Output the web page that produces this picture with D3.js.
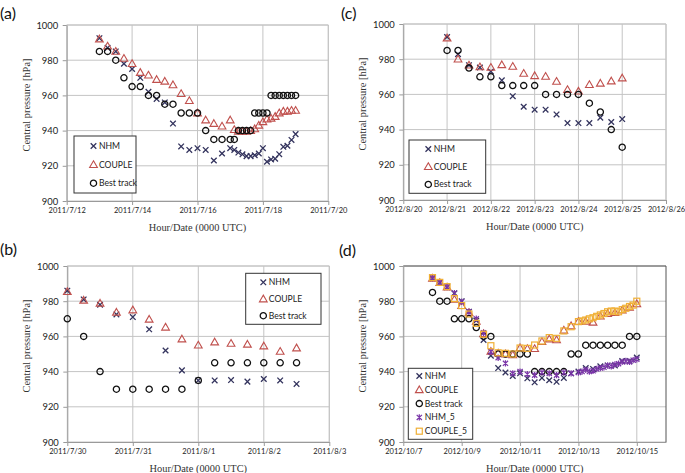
<!DOCTYPE html>
<html>
<head>
<meta charset="utf-8">
<script src="https://cdn.jsdelivr.net/npm/d3@7"></script>
<style>
  body { margin: 0; background: #fff; }
  svg { display: block; }
</style>
</head>
<body>
<svg id="chart" width="685" height="473"></svg>
<script>
// ---- data (day of month, hPa) ----
// (a) 2011 July
const aTime = [13, 13.25, 13.5, 13.75, 14, 14.25, 14.5, 14.75, 15, 15.25, 15.5, 15.75, 16, 16.25, 16.5, 16.75,
  17, 17.125, 17.25, 17.375, 17.5, 17.625, 17.75, 17.875, 18, 18.125, 18.25, 18.375, 18.5, 18.625, 18.75, 18.875, 19]
const aNHM = [992.5, 987, 985, 978, 975, 970, 962, 958, 956, 944, 931, 929, 930, 929, 923, 927,
  930, 929, 927.5, 926.5, 925.5, 925.5, 926, 927, 930, 922.3, 923.6, 924, 926.6, 930.8, 931.4, 934.7, 938]
const aCOUPLE = [992, 988, 985, 981, 978, 973, 971.5, 969, 968, 966, 961, 957, 950, 946, 944, 942.5,
  946, 940.5, 939.5, 939.5, 939.5, 940, 941, 943, 945, 946.5, 947, 948, 950, 951, 951, 951.5, 951.5]
const aBest = [985, 985, 980, 970, 965, 965, 960, 960, 955, 955, 950, 950, 950, 940, 935, 935,
  935, 935, 940, 940, 940, 940, 950, 950, 950, 950, 960, 960, 960, 960, 960, 960, 960]

// (b) 2011 July (day 32 = Aug 1)
const bTime = [30, 30.25, 30.5, 30.75, 31, 31.25, 31.5, 31.75, 32, 32.25, 32.5, 32.75, 33, 33.25, 33.5]
const bNHM = [986, 981, 978, 972.5, 971, 964, 952, 940.7, 935, 935, 935.2, 934.3, 935.8, 935, 933]
const bCOUPLE = [985.4, 980.5, 978.8, 973.7, 975, 969.7, 965.2, 958.5, 955, 956.8, 956, 955.5, 954.5, 951.5, 953.4]
const bBest = [970, 960, 940, 930, 930, 930, 930, 930, 935, 945, 945, 945, 945, 945, 945]

// (c) 2012 August
const cTime = [21, 21.25, 21.5, 21.75, 22, 22.25, 22.5, 22.75, 23, 23.25, 23.5, 23.75, 24, 24.25, 24.5, 24.75, 25]
const cNHM = [992.6, 982.8, 976.6, 975.3, 973, 968, 959, 953, 951.3, 951.3, 948.6, 943.7, 943.7, 943.7, 946.8, 944.3, 946]
const cCOUPLE = [992, 980, 976.6, 975.6, 975.3, 976.8, 975.9, 971.9, 970.6, 970.2, 967.4, 962.7, 961.8, 965.5, 966.3, 967.6, 969.3]
const cBest = [985, 985, 975, 970, 970, 965, 965, 965, 965, 960, 960, 960, 960, 955, 950, 940, 930]

// (d) 2012 October
const dTime = [8, 8.25, 8.5, 8.75, 9, 9.25, 9.5, 9.75, 10, 10.25, 10.5, 10.75, 11, 11.25, 11.5, 11.75,
  12, 12.25, 12.5, 12.75, 13, 13.25, 13.5, 13.75, 14, 14.25, 14.5, 14.75, 15]
const dNHM = [993, 990.5, 988, 984.5, 980, 974, 969, 958, 949, 942, 939.5, 937.5, 939, 936.2, 933.9, 936.4,
  935.1, 934.2, 936.4, 939, 940, 942, 941.5, 943, 943.5, 943.5, 946, 946, 948]
const dCOUPLE = [993, 990.5, 988, 981, 977.5, 973.5, 968.5, 961.5, 951.5, 950.5, 950, 949.5, 953.5, 953, 953, 957,
  958.5, 958, 963.5, 966, 968.5, 968.5, 968, 971.5, 973, 973.5, 975, 976.5, 978.5]
const dBest = [985, 980, 980, 970, 970, 970, 965, 960, 960, 950, 950, 950, 950, 950, 940, 940,
  940, 940, 940, 950, 950, 955, 955, 955, 955, 955, 955, 960, 960]
const d5Time = [8, 8.25, 8.5, 8.75, 9, 9.25, 9.5, 9.75, 10, 10.25, 10.5, 10.75, 11, 11.25, 11.5, 11.75,
  12, 12.25, 12.5, 12.75, 13, 13.125, 13.25, 13.375, 13.5, 13.625, 13.75, 13.875, 14, 14.125, 14.25, 14.375,
  14.5, 14.625, 14.75, 14.875, 15]
const dNHM5 = [993, 990.5, 988, 984.5, 979.7, 974, 970, 962, 951.3, 947.9, 944.7, 939, 940, 938.5, 938, 939.5,
  939, 938, 939.5, 939, 939.5, 940, 941, 940, 940.5, 941.5, 942, 942.5, 943.5, 943, 944, 944.5,
  945.5, 946, 945.5, 946.5, 947]
const dCOUPLE5 = [993.4, 990.7, 988.3, 981.5, 977.5, 972.7, 967.4, 961.2, 954.7, 950.7, 950.4, 950, 953.4, 953.2, 955.1, 957.4,
  959.3, 958.9, 963.1, 965.5, 968.4, 968.8, 969.3, 970, 970.6, 971.4, 972.2, 973, 974, 974.4, 974.4, 974,
  975.2, 976, 977, 977.8, 980]

const pressureTicks = [900, 920, 940, 960, 980, 1000]
const aTicks = [12, 14, 16, 18, 20]
const bTicks = [30, 31, 32, 33, 34]
const cTicks = [20, 21, 22, 23, 24, 25, 26]
const dTicks = [7, 9, 11, 13, 15]

// ---- styles ----
const styles = {
  NHM: { color: '#34345e', marker: 'cross' },
  COUPLE: { color: '#c0504d', marker: 'triangle' },
  'Best track': { color: '#111', marker: 'circle' },
  NHM_5: { color: '#7a35a8', marker: 'star' },
  COUPLE_5: { color: '#f0b035', marker: 'square' }
}

const toDate = (year, month, day) => new Date(Date.UTC(year, month, 1) + (day - 1) * 864e5)
const fmt = d => `${d.getUTCFullYear()}/${d.getUTCMonth() + 1}/${d.getUTCDate()}`

function marker(sel, name) {
  const { color, marker } = styles[name]
  if (marker === 'cross') {
    sel.append('path').attr('d', 'M-2.8,-2.8L2.8,2.8M-2.8,2.8L2.8,-2.8')
      .attr('stroke', color).attr('stroke-width', 1.3).attr('fill', 'none')
  } else if (marker === 'star') {
    sel.append('path').attr('d', 'M-2.6,-2.6L2.6,2.6M-2.6,2.6L2.6,-2.6M0,-3.2L0,3.2')
      .attr('stroke', color).attr('stroke-width', 1.2).attr('fill', 'none')
  } else if (marker === 'triangle') {
    sel.append('path').attr('d', d3.symbol(d3.symbolTriangle, 26)())
      .attr('transform', 'translate(0,0.6)')
      .attr('stroke', color).attr('stroke-width', 1.1).attr('fill', 'none')
  } else if (marker === 'square') {
    sel.append('rect').attr('x', -3).attr('y', -3).attr('width', 6).attr('height', 6)
      .attr('stroke', color).attr('stroke-width', 1.2).attr('fill', 'none')
  } else {
    sel.append('circle').attr('r', 3.1)
      .attr('stroke', color).attr('stroke-width', 1.3).attr('fill', 'none')
  }
}

const svg = d3.select('#chart')

function drawPanel(p) {
  const g = svg.append('g')
  const x = d3.scaleUtc()
    .domain([toDate(p.year, p.month, p.start), toDate(p.year, p.month, p.end)])
    .range([p.left, p.right])
  const y = d3.scaleLinear().domain([900, 1000]).range([p.bottom, p.top])
  const tickDates = p.ticks.map(t => toDate(p.year, p.month, t))

  // grid
  g.append('g').selectAll('line').data(pressureTicks).join('line')
    .attr('x1', p.left).attr('x2', p.right)
    .attr('y1', d => y(d)).attr('y2', d => y(d))
    .attr('stroke', '#c4c4c4').attr('stroke-width', 1)
  g.append('g').selectAll('line').data(tickDates).join('line')
    .attr('x1', d => x(d)).attr('x2', d => x(d))
    .attr('y1', p.top).attr('y2', p.bottom)
    .attr('stroke', '#c4c4c4').attr('stroke-width', 1)
  // frame (top, right)
  g.append('path')
    .attr('d', `M${p.left},${p.top}H${p.right}V${p.bottom}`)
    .attr('fill', 'none').attr('stroke', p.frame).attr('stroke-width', 1)

  // axes
  g.append('g')
    .attr('transform', `translate(0,${p.bottom})`)
    .call(d3.axisBottom(x).tickValues(tickDates).tickFormat(fmt).tickSize(4).tickPadding(3).tickSizeOuter(0))
    .call(a => a.select('.domain').attr('stroke', '#9a9a9a'))
    .call(a => a.selectAll('line').attr('stroke', '#9a9a9a'))
    .call(a => a.selectAll('text').attr('font-family', 'Lato, sans-serif').attr('font-size', 7.5).attr('fill', '#222'))
  g.append('g')
    .attr('transform', `translate(${p.left},0)`)
    .call(d3.axisLeft(y).tickValues(pressureTicks).tickFormat(d3.format('d')).tickSize(4).tickPadding(4.5).tickSizeOuter(0))
    .call(a => a.select('.domain').attr('stroke', '#9a9a9a'))
    .call(a => a.selectAll('line').attr('stroke', '#9a9a9a'))
    .call(a => a.selectAll('text').attr('font-family', 'Lato, sans-serif').attr('font-size', 9.4).attr('fill', '#222'))

  // titles
  g.append('text')
    .attr('transform', `translate(${p.left - 37},${(p.top + p.bottom) / 2 - 8}) rotate(-90)`)
    .attr('text-anchor', 'middle')
    .attr('font-family', '"Liberation Serif", serif').attr('font-size', 10.4).attr('fill', '#333')
    .text('Central pressure [hPa]')
  g.append('text')
    .attr('x', (p.left + p.right) / 2).attr('y', p.bottom + 30)
    .attr('text-anchor', 'middle')
    .attr('font-family', '"Liberation Serif", serif').attr('font-size', 10.4).attr('fill', '#333')
    .text('Hour/Date (0000 UTC)')
  g.append('text')
    .attr('x', p.labelX).attr('y', p.labelY)
    .attr('font-family', 'Lato, sans-serif').attr('font-size', 16).attr('fill', '#111')
    .text(p.label)

  // series
  p.series.forEach(s => {
    const pts = s.values.map((v, i) => ({ t: toDate(p.year, p.month, s.time[i]), v }))
    g.append('g').selectAll('g').data(pts).join('g')
      .attr('transform', d => `translate(${x(d.t)},${y(d.v)})`)
      .each(function () { marker(d3.select(this), s.name) })
  })

  // legend
  const lg = g.append('g').attr('transform', `translate(${p.legend.x},${p.legend.y})`)
  lg.append('rect')
    .attr('width', p.legend.w).attr('height', p.legend.h)
    .attr('fill', '#fff').attr('stroke', '#333').attr('stroke-width', 1)
  const items = lg.selectAll('g').data(p.series.map(s => s.name)).join('g')
    .attr('transform', (d, i) => `translate(${p.legend.sx},${p.legend.first + i * p.legend.step})`)
  items.each(function (d) { marker(d3.select(this), d) })
  items.append('text')
    .attr('x', 5.5).attr('dy', '0.35em')
    .attr('font-family', 'Lato, sans-serif').attr('font-size', 8.6).attr('fill', '#222')
    .text(d => d)
}

drawPanel({
  label: '(a)', labelX: 0, labelY: 19,
  year: 2011, month: 6, start: 12, end: 20, ticks: aTicks,
  left: 66.7, right: 328.3, top: 25, bottom: 201, frame: '#c4c4c4',
  legend: { x: 74, y: 136, w: 62, h: 57, sx: 19.5, first: 10, step: 18.6 },
  series: [
    { name: 'NHM', time: aTime, values: aNHM },
    { name: 'COUPLE', time: aTime, values: aCOUPLE },
    { name: 'Best track', time: aTime, values: aBest }
  ]
})

drawPanel({
  label: '(b)', labelX: 0, labelY: 255,
  year: 2011, month: 6, start: 30, end: 34, ticks: bTicks,
  left: 67.3, right: 329.3, top: 266, bottom: 442, frame: '#c4c4c4',
  legend: { x: 245.7, y: 273.3, w: 75.3, h: 51, sx: 17.6, first: 9, step: 16.7 },
  series: [
    { name: 'NHM', time: bTime, values: bNHM },
    { name: 'COUPLE', time: bTime, values: bCOUPLE },
    { name: 'Best track', time: bTime, values: bBest }
  ]
})

drawPanel({
  label: '(c)', labelX: 341, labelY: 19,
  year: 2012, month: 7, start: 20, end: 26, ticks: cTicks,
  left: 403.3, right: 666, top: 24, bottom: 200, frame: '#c4c4c4',
  legend: { x: 409, y: 140, w: 76.7, h: 53.3, sx: 19.3, first: 9, step: 17.7 },
  series: [
    { name: 'NHM', time: cTime, values: cNHM },
    { name: 'COUPLE', time: cTime, values: cCOUPLE },
    { name: 'Best track', time: cTime, values: cBest }
  ]
})

drawPanel({
  label: '(d)', labelX: 339, labelY: 256,
  year: 2012, month: 9, start: 7, end: 16, ticks: dTicks,
  left: 403.3, right: 666, top: 266, bottom: 442, frame: '#555',
  legend: { x: 408.3, y: 368.3, w: 64.4, h: 71, sx: 11, first: 7.7, step: 13.8 },
  series: [
    { name: 'NHM', time: dTime, values: dNHM },
    { name: 'COUPLE', time: dTime, values: dCOUPLE },
    { name: 'Best track', time: dTime, values: dBest },
    { name: 'NHM_5', time: d5Time, values: dNHM5 },
    { name: 'COUPLE_5', time: d5Time, values: dCOUPLE5 }
  ]
})
</script>
</body>
</html>
